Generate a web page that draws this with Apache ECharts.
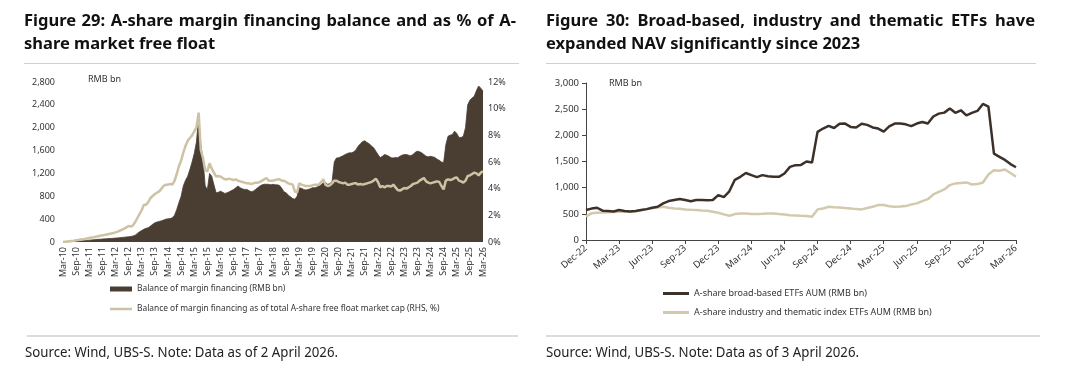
<!DOCTYPE html>
<html><head><meta charset="utf-8">
<script src="https://cdn.jsdelivr.net/npm/echarts@6/dist/echarts.min.js"></script>
<style>html,body{margin:0;padding:0;background:#fff}#c{width:1080px;height:384px}</style>
</head><body><div id="c"></div>
<script>
// ---------- Figure 29 data (monthly, Mar-10 .. Mar-26) ----------
const leftTickLabels = ["Mar-10","Sep-10","Mar-11","Sep-11","Mar-12","Sep-12","Mar-13","Sep-13","Mar-14","Sep-14","Mar-15","Sep-15","Mar-16","Sep-16","Mar-17","Sep-17","Mar-18","Sep-18","Mar-19","Sep-19","Mar-20","Sep-20","Mar-21","Sep-21","Mar-22","Sep-22","Mar-23","Sep-23","Mar-24","Sep-24","Mar-25","Sep-25","Mar-26"];
const marginBalance = [
  0,1,3,5,7,9,12,15,18,21,
  25,28,32,36,40,43,46,49,52,55,57,60,
  62,65,68,72,76,80,84,88,92,96,105,120,
  150,180,200,225,240,250,280,310,335,350,360,370,
  385,400,405,410,425,470,570,690,800,980,1080,1150,
  1270,1400,1550,1750,2200,1700,1450,980,920,1200,1150,1000,
  860,870,890,870,850,860,880,900,920,950,980,950,
  930,920,920,900,880,890,920,950,980,1000,1010,1010,
  1010,1000,1010,1000,1000,990,940,880,860,820,790,760,
  750,800,950,940,920,910,920,930,950,950,960,980,
  1000,1040,1040,1010,1020,1060,1400,1470,1475,1490,1510,1530,
  1550,1560,1560,1580,1620,1680,1720,1760,1770,1740,1720,1680,
  1650,1590,1530,1475,1500,1530,1520,1500,1475,1470,1480,1475,
  1500,1520,1530,1530,1520,1510,1530,1570,1590,1580,1560,1530,
  1500,1490,1500,1490,1480,1450,1430,1400,1390,1700,1850,1870,
  1880,1940,1900,1830,1830,1850,2000,2400,2480,2520,2550,2650,
  2730,2690,2640
];
const marginRatio = [
  0,0.02,0.04,0.06,0.08,0.1,0.13,0.16,0.18,0.2,
  0.23,0.27,0.3,0.33,0.36,0.4,0.43,0.47,0.5,0.53,0.57,0.6,
  0.63,0.67,0.72,0.78,0.85,0.92,1.0,1.1,1.2,1.15,1.25,1.5,
  1.8,2.1,2.4,2.8,2.8,3.0,3.3,3.45,3.6,3.7,3.8,4.0,
  4.2,4.3,4.3,4.35,4.3,4.6,5.1,5.7,6.1,6.7,7.2,7.6,
  7.8,8.0,8.3,8.6,9.7,6.9,6.3,5.4,5.3,5.9,5.5,5.2,
  4.9,4.95,4.9,4.8,4.7,4.7,4.75,4.7,4.65,4.7,4.6,4.55,
  4.5,4.45,4.4,4.4,4.35,4.4,4.45,4.45,4.5,4.6,4.7,4.8,
  4.6,4.6,4.6,4.65,4.7,4.7,4.6,4.6,4.5,4.4,4.35,4.3,
  3.8,3.7,4.4,4.3,4.25,4.2,4.2,4.2,4.25,4.3,4.3,4.3,
  4.5,4.7,4.3,4.2,4.25,4.4,4.6,4.6,4.5,4.45,4.4,4.45,
  4.3,4.3,4.35,4.4,4.4,4.3,4.35,4.3,4.35,4.4,4.45,4.5,
  4.6,4.75,4.5,4.1,4.2,4.1,4.2,4.2,4.15,4.3,4.1,3.9,
  3.85,3.95,4.05,4.0,4.1,4.2,4.35,4.4,4.45,4.6,4.7,4.8,
  4.55,4.45,4.4,4.45,4.5,4.55,4.5,4.2,3.95,4.6,4.7,4.65,
  4.7,4.8,4.85,4.6,4.55,4.45,4.6,4.95,5.0,5.1,5.2,5.15,
  5.0,5.2,5.3
];
// ---------- Figure 30 data (semi-monthly, end Dec-22 .. Mar-26) ----------
const rightTickLabels = ["Dec-22","Mar-23","Jun-23","Sep-23","Dec-23","Mar-24","Jun-24","Sep-24","Dec-24","Mar-25","Jun-25","Sep-25","Dec-25","Mar-26"];
const etfBroad = [
  572,600,616,560,553,545,572,555,545,553,572,590,
  616,636,700,744,763,782,763,740,763,763,760,765,
  858,820,930,1150,1207,1280,1240,1200,1240,1220,1207,1207,
  1271,1398,1430,1435,1500,1480,2066,2130,2180,2140,2220,2225,
  2161,2150,2220,2200,2150,2129,2070,2170,2225,2225,2210,2175,
  2225,2256,2225,2360,2415,2434,2511,2430,2479,2380,2428,2466,
  2600,2550,1650,1590,1530,1450,1390
];
const etfThematic = [
  450,510,520,525,530,535,540,540,540,550,570,590,
  605,620,636,615,600,595,585,578,572,565,559,540,
  520,490,464,495,508,505,496,496,500,505,505,495,
  489,475,470,464,460,445,585,600,636,628,623,610,
  604,590,585,610,636,667,667,645,636,640,648,680,
  700,744,780,870,920,966,1049,1081,1090,1100,1060,1068,
  1100,1250,1335,1322,1347,1280,1210
];

// ---------- categories ----------
const MON = ["Jan","Feb","Mar","Apr","May","Jun","Jul","Aug","Sep","Oct","Nov","Dec"];
const leftCats = marginBalance.map((_, i) => {
  const t = 2 + i; const y = 2010 + Math.floor(t / 12); return MON[t % 12] + "-" + String(y).slice(2);
});
const rightCats = etfBroad.map((_, i) => {
  const mm = 11 + Math.ceil(i / 2); const y = 2022 + Math.floor(mm / 12);
  const lab = MON[mm % 12] + "-" + String(y).slice(2);
  return i % 2 ? "mid " + lab : lab;
});

const DARK = "#4a3e32", BEIGE = "#cdc2a3", DARK2 = "#3b312a", BEIGE2 = "#d3c9ac";
const TXT = "#333";
const FONT = '"Noto Sans", "Open Sans", sans-serif';
const L1 = "Balance of margin financing (RMB bn)";
const L2 = "Balance of margin financing as of total A-share free float market cap (RHS, %)";
const R1 = "A-share broad-based ETFs AUM (RMB bn)";
const R2 = "A-share industry and thematic index ETFs AUM (RMB bn)";
const fmt = v => Number(v).toLocaleString("en-US");

// text measurement helpers (layout only)
const mctx = document.createElement("canvas").getContext("2d");
function measure(text, font) { mctx.font = font; return mctx.measureText(text).width; }
const TITLE_FONT = "bold 16.5px " + FONT;
function justified(text, x, y, width) {
  const words = text.split(" ");
  const ws = words.map(w => measure(w, TITLE_FONT));
  const total = ws.reduce((a, b) => a + b, 0);
  const gap = (width - total) / (words.length - 1);
  const out = []; let cx = x;
  words.forEach((w, i) => {
    out.push({type: "text", x: cx, y: y, style: {text: w, font: TITLE_FONT, fill: "#111", textVerticalAlign: "middle"}});
    cx += ws[i] + gap;
  });
  return out;
}
function plain(text, x, y) {
  return {type: "text", x: x, y: y, style: {text: text, font: TITLE_FONT, fill: "#111", textVerticalAlign: "middle"}};
}
const SRC_FONT = "14px " + FONT;
function source(text, x, width) {
  const w = measure(text, SRC_FONT);
  return {type: "text", x: x, y: 353.5, scaleX: width / w, style: {text: text, font: SRC_FONT, fill: "#222", textVerticalAlign: "middle"}};
}

const chart = echarts.init(document.getElementById("c"), null, {renderer: "canvas"});
chart.setOption({
  animation: false,
  textStyle: {fontFamily: FONT},
  grid: [
    {left: 63, top: 82, width: 420, height: 160},
    {left: 586, top: 83, width: 430, height: 157}
  ],
  xAxis: [
    {gridIndex: 0, type: "category", data: leftCats, boundaryGap: false,
     axisLine: {show: false}, axisTick: {show: false},
     axisLabel: {rotate: 90, interval: 5, fontSize: 9, color: TXT, margin: 5, fontFamily: FONT}},
    {gridIndex: 1, type: "category", data: rightCats, boundaryGap: false,
     axisLine: {show: true, lineStyle: {color: "#444", width: 1}},
     axisTick: {show: true, interval: 5, length: 4, lineStyle: {color: "#444"}},
     axisLabel: {rotate: 40, interval: 5, fontSize: 9.5, color: TXT, margin: 7, fontFamily: FONT}}
  ],
  yAxis: [
    {gridIndex: 0, type: "value", min: 0, max: 2800, interval: 400,
     axisLine: {show: false}, axisTick: {show: false}, splitLine: {show: false},
     axisLabel: {formatter: fmt, fontSize: 9, color: TXT, margin: 8, fontFamily: FONT}},
    {gridIndex: 0, type: "value", position: "right", min: 0, max: 12, interval: 2,
     axisLine: {show: false}, axisTick: {show: false}, splitLine: {show: false},
     axisLabel: {formatter: "{value}%", fontSize: 9, color: TXT, margin: 5, fontFamily: FONT}},
    {gridIndex: 1, type: "value", min: 0, max: 3000, interval: 500,
     axisLine: {show: true, lineStyle: {color: "#444", width: 1}},
     axisTick: {show: true, length: 4, lineStyle: {color: "#444"}}, splitLine: {show: false},
     axisLabel: {formatter: fmt, fontSize: 9.5, color: TXT, margin: 7, fontFamily: FONT}}
  ],
  legend: [
    {left: 105, top: 280, orient: "vertical", itemGap: 12, itemWidth: 22, itemHeight: 6,
     selectedMode: false, textStyle: {fontSize: 8.4, color: TXT, fontFamily: FONT},
     data: [{name: L1, icon: "path://M0,0L22,0L22,5L0,5Z"},
            {name: L2, icon: "path://M0,0L22,0L22,2.5L0,2.5Z"}]},
    {left: 658, top: 284, orient: "vertical", itemGap: 10, itemWidth: 26, itemHeight: 6,
     selectedMode: false, textStyle: {fontSize: 9, color: TXT, fontFamily: FONT},
     data: [{name: R1, icon: "path://M0,0L26,0L26,3L0,3Z"},
            {name: R2, icon: "path://M0,0L26,0L26,3L0,3Z"}]}
  ],
  series: [
    {type: "line", name: L1, xAxisIndex: 0, yAxisIndex: 0, data: marginBalance, symbol: "none",
     color: DARK, lineStyle: {width: 0.8, color: DARK}, areaStyle: {color: DARK, opacity: 1}, z: 2},
    {type: "line", name: L2, xAxisIndex: 0, yAxisIndex: 1, data: marginRatio, symbol: "none",
     color: BEIGE, lineStyle: {width: 2.5, color: BEIGE}, z: 3},
    {type: "line", name: R1, xAxisIndex: 1, yAxisIndex: 2, data: etfBroad, symbol: "none",
     color: DARK2, lineStyle: {width: 2.5, color: DARK2}, z: 3},
    {type: "line", name: R2, xAxisIndex: 1, yAxisIndex: 2, data: etfThematic, symbol: "none",
     color: BEIGE2, lineStyle: {width: 2.5, color: BEIGE2}, z: 2}
  ],
  graphic: [].concat(
    justified("Figure 29: A-share margin financing balance and as % of A-", 24, 21, 492),
    [plain("share market free float", 24, 44)],
    justified("Figure 30: Broad-based, industry and thematic ETFs have", 546, 21, 489),
    [plain("expanded NAV significantly since 2023", 546, 44)],
    [
      {type: "line", shape: {x1: 24, y1: 63.5, x2: 519, y2: 63.5}, style: {stroke: "#d0d0d0", lineWidth: 1}},
      {type: "line", shape: {x1: 546, y1: 63.5, x2: 1036, y2: 63.5}, style: {stroke: "#d0d0d0", lineWidth: 1}},
      {type: "line", shape: {x1: 27, y1: 336, x2: 518, y2: 336}, style: {stroke: "#d0d0d0", lineWidth: 1.5}},
      {type: "line", shape: {x1: 546, y1: 336, x2: 1040, y2: 336}, style: {stroke: "#d0d0d0", lineWidth: 1.5}},
      {type: "text", x: 88, y: 75, style: {text: "RMB bn", font: "9px " + FONT, fill: TXT}},
      {type: "text", x: 609, y: 79, style: {text: "RMB bn", font: "9px " + FONT, fill: TXT}},
      source("Source: Wind, UBS-S. Note: Data as of 2 April 2026.", 25, 313),
      source("Source: Wind, UBS-S. Note: Data as of 3 April 2026.", 546, 313)
    ]
  )
});
</script></body></html>
